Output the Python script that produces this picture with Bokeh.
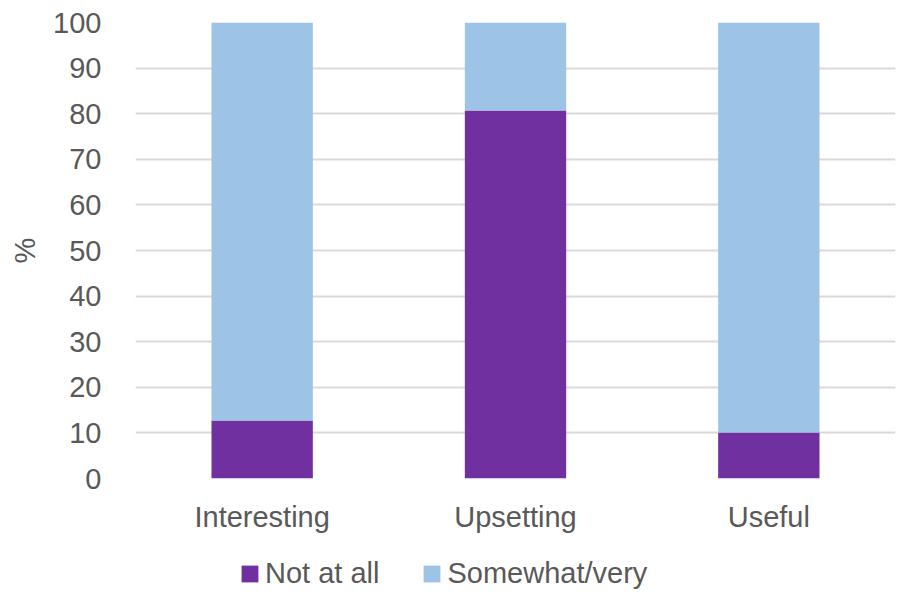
from bokeh.plotting import figure
from bokeh.models import ColumnDataSource, Legend, LegendItem, FixedTicker
from bokeh.layouts import column
from bokeh.embed import file_html
from bokeh.resources import INLINE

categories = ["Interesting", "Upsetting", "Useful"]
not_at_all = [12.7, 80.7, 10.1]
somewhat_very = [87.3, 19.3, 89.9]
series = ["Not at all", "Somewhat/very"]
colors = ["#7030A0", "#9DC3E6"]
y_ticks = [0, 10, 20, 30, 40, 50, 60, 70, 80, 90, 100]

FONT = "Liberation Sans"
FS = "29px"
GREY = "#595959"

src = ColumnDataSource(dict(cat=categories, **{series[0]: not_at_all, series[1]: somewhat_very}))

p = figure(x_range=categories, y_range=(0, 100), width=897, height=540,
           output_backend="svg", toolbar_location=None,
           min_border_left=135, min_border_right=2, min_border_top=22, min_border_bottom=62)

rs = p.vbar_stack(series, x="cat", width=0.4, source=src, color=colors, line_color=None)

p.outline_line_color = None
p.xgrid.grid_line_color = None
p.ygrid.grid_line_color = "#d9d9d9"
p.ygrid.grid_line_width = 2
p.yaxis.ticker = FixedTicker(ticks=y_ticks)

for ax in (p.xaxis, p.yaxis):
    ax.axis_line_color = None
    ax.major_tick_line_color = None
    ax.minor_tick_line_color = None
    ax.major_label_text_font = FONT
    ax.major_label_text_font_size = FS
    ax.major_label_text_color = GREY

p.yaxis.major_label_standoff = 28
p.xaxis.major_label_standoff = 16
p.yaxis.axis_label = "%"
p.yaxis.axis_label_text_font = FONT
p.yaxis.axis_label_text_font_size = FS
p.yaxis.axis_label_text_font_style = "normal"
p.yaxis.axis_label_text_color = GREY
p.yaxis.axis_label_standoff = 9

# legend in its own strip below the chart (frames are aligned in the column);
# the strip shows the same stacks but its y view lies outside the data, so only the legend is seen
lg = figure(width=897, height=52, output_backend="svg", toolbar_location=None,
            x_range=categories, y_range=(1000, 1001),
            min_border_left=0, min_border_right=0, min_border_top=0, min_border_bottom=0)
lg.axis.visible = False
lg.grid.visible = False
lg.outline_line_color = None
lrs = lg.vbar_stack(series, x="cat", width=0.4, source=src, color=colors, line_color=None)

legend = Legend(items=[LegendItem(label=s, renderers=[r]) for s, r in zip(series, lrs)],
                orientation="horizontal", location=(104, 2),
                label_text_font=FONT, label_text_font_size=FS,
                label_text_color=GREY, glyph_width=21, glyph_height=21,
                spacing=42, label_standoff=5, border_line_color=None,
                background_fill_alpha=0, padding=0, margin=0)
lg.add_layout(legend, "center")

open("out.html", "w").write(file_html(column(p, lg, spacing=0), INLINE))
